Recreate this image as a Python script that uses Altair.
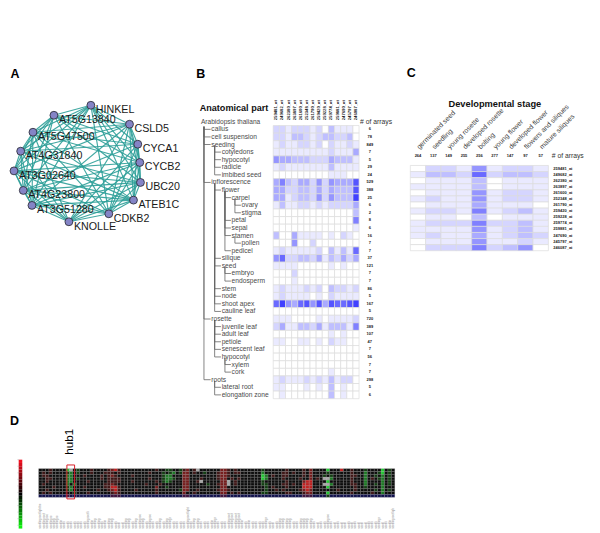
import itertools
import altair as alt
import pandas as pd

FONT = "Liberation Sans"

# ---------- Panel A : co-expression network ----------
genes = ["HINKEL", "CSLD5", "CYCA1", "CYCB2", "UBC20", "ATEB1C", "CDKB2", "KNOLLE",
         "AT3G51280", "AT4G23800", "AT3G02640", "AT4G31840", "AT5G47500", "AT5G13840"]
gene_x = [90, 128.7, 137, 139, 139.7, 132.7, 108, 68, 31, 22.3, 13, 19.7, 32, 53]
gene_y = [105, 124, 144, 162.3, 182.3, 200, 213.7, 221.7, 205.3, 190.3, 170.7, 151, 132, 115]
absent_edges = [(0, 7), (1, 9), (2, 10), (3, 11), (4, 12), (5, 13), (7, 13), (8, 2), (11, 6)]

# ---------- Panel B : anatomical parts ----------
probes = ["259481_at", "249682_at", "262380_at", "263897_at", "261600_at", "252348_at", "261790_at",
          "259420_at", "259228_at", "259774_at", "259881_at", "247690_at", "245797_at", "246087_at"]
parts = ["callus", "cell suspension", "seeding", "cotyledons", "hypocotyl", "radicle", "imbibed seed",
         "inflorescence", "flower", "carpel", "ovary", "stigma", "petal", "sepal", "stamen", "pollen",
         "pedicel", "silique", "seed", "embryo", "endosperm", "stem", "node", "shoot apex", "cauline leaf",
         "rosette", "juvenile leaf", "adult leaf", "petiole", "senescent leaf", "hypocotyl", "xylem", "cork",
         "roots", "lateral root", "elongation zone"]
depths = [1, 1, 1, 2, 2, 2, 2, 1, 2, 3, 4, 4, 3, 3, 3, 4, 3, 2, 2, 3, 3, 2, 2, 2, 2,
          1, 2, 2, 2, 2, 2, 3, 3, 1, 2, 2]
part_arrays = ["6", "78", "849", "7", "5", "29", "24", "529", "388", "25", "6", "2", "8", "6", "16", "7",
               "7", "37", "121", "7", "7", "86", "5", "167", "5", "720", "389", "107", "47", "7", "56", "7",
               "7", "298", "5", "6"]
anatomy = [
    [2, 2, 1, 2, 2, 2, 1, 2, 0, 3, 1, 1, 1, 0],
    [2, 2, 1, 3, 3, 2, 1, 2, 3, 3, 2, 2, 3, 0],
    [1, 2, 1, 1, 2, 2, 1, 2, 0, 2, 1, 1, 2, 1],
    [1, 1, 1, 1, 1, 1, 1, 1, 1, 2, 1, 1, 1, 4],
    [5, 4, 4, 3, 3, 3, 2, 2, 2, 4, 3, 3, 3, 1],
    [1, 2, 1, 1, 1, 1, 1, 1, 1, 3, 1, 1, 1, 1],
    [0, 0, 0, 0, 0, 0, 0, 0, 0, 1, 1, 1, 0, 0],
    [4, 6, 3, 2, 4, 4, 2, 5, 2, 5, 4, 4, 4, 8],
    [4, 4, 2, 2, 3, 3, 2, 4, 2, 4, 3, 3, 3, 8],
    [4, 4, 1, 2, 3, 3, 2, 5, 2, 5, 3, 3, 3, 9],
    [1, 3, 1, 1, 2, 2, 1, 2, 1, 2, 2, 2, 2, 4],
    [0, 0, 0, 0, 0, 0, 0, 0, 0, 0, 0, 0, 0, 3],
    [0, 0, 0, 0, 0, 0, 0, 0, 0, 0, 0, 0, 0, 6],
    [0, 0, 0, 0, 0, 0, 0, 0, 0, 0, 0, 0, 0, 1],
    [3, 0, 0, 4, 1, 1, 1, 1, 0, 1, 0, 2, 1, 0],
    [0, 0, 0, 5, 0, 0, 2, 0, 0, 0, 0, 0, 0, 0],
    [1, 2, 1, 1, 1, 1, 1, 2, 0, 3, 1, 3, 1, 7],
    [5, 7, 2, 2, 3, 3, 2, 4, 1, 3, 2, 4, 2, 4],
    [1, 1, 1, 1, 0, 0, 0, 0, 0, 1, 0, 1, 0, 0],
    [0, 0, 0, 2, 0, 0, 0, 0, 0, 0, 0, 0, 0, 0],
    [0, 0, 0, 1, 0, 0, 0, 0, 0, 0, 0, 0, 0, 0],
    [1, 2, 1, 1, 1, 2, 1, 2, 0, 3, 2, 2, 1, 2],
    [1, 2, 1, 1, 1, 1, 0, 1, 0, 2, 1, 1, 1, 1],
    [7, 9, 5, 4, 7, 8, 5, 8, 4, 8, 7, 7, 8, 9],
    [0, 0, 0, 0, 0, 0, 0, 0, 0, 0, 0, 0, 0, 0],
    [1, 1, 1, 0, 0, 0, 0, 1, 0, 1, 1, 1, 1, 2],
    [2, 4, 1, 1, 3, 3, 2, 4, 1, 3, 3, 3, 1, 6],
    [0, 0, 0, 0, 0, 0, 0, 0, 0, 1, 0, 1, 0, 0],
    [1, 1, 0, 0, 1, 1, 0, 1, 0, 2, 1, 1, 0, 0],
    [0, 0, 0, 0, 0, 0, 0, 0, 0, 0, 0, 0, 0, 0],
    [0, 0, 0, 0, 0, 0, 0, 0, 0, 0, 0, 0, 0, 0],
    [0, 0, 0, 0, 0, 0, 0, 0, 0, 0, 0, 0, 0, 0],
    [0, 0, 0, 0, 0, 0, 0, 0, 0, 1, 0, 0, 0, 0],
    [1, 2, 1, 1, 1, 2, 1, 2, 1, 3, 1, 2, 2, 0],
    [1, 1, 0, 0, 0, 1, 0, 1, 0, 3, 0, 1, 0, 0],
    [0, 1, 0, 0, 0, 0, 0, 0, 0, 3, 0, 1, 0, 0],
]

# ---------- Panel C : developmental stages ----------
stages = ["germinated seed", "seedling", "young rosette", "developed rosette", "bolting", "young flower",
          "developed flower", "flowers and siliques", "mature siliques"]
stage_arrays = ["264", "137", "149", "255", "256", "277", "147", "97", "57"]
development = [
    [0, 2, 2, 1, 5, 1, 2, 2, 1],
    [1, 3, 3, 2, 7, 2, 3, 3, 2],
    [0, 1, 1, 1, 3, 0, 1, 1, 1],
    [1, 1, 1, 1, 3, 0, 1, 1, 1],
    [0, 1, 1, 1, 5, 1, 2, 2, 1],
    [1, 2, 1, 1, 5, 1, 2, 2, 1],
    [0, 1, 1, 1, 4, 1, 1, 1, 0],
    [1, 2, 2, 1, 6, 1, 2, 3, 1],
    [0, 1, 1, 0, 3, 0, 1, 1, 1],
    [1, 2, 2, 2, 6, 2, 2, 3, 1],
    [1, 1, 1, 1, 5, 1, 2, 3, 1],
    [1, 2, 1, 1, 4, 1, 2, 3, 2],
    [0, 1, 1, 1, 5, 1, 1, 2, 1],
    [0, 2, 2, 2, 6, 2, 3, 5, 0],
]

# ---------- Panel D : expression matrix (letters map to shades) ----------
matrix_rows = [
    "...r....Yw .g...r.... rRXr...... ....r..gg. .grR.rw... ...RRr.r.. .....g.... ..r....r.R ....Y...X. .r...g.... Y.g.",
    ".r.r....gG .g...r...r rr.r...... ..r...g.gG .gRR.r..g. ..rRRr.rr. .....G.... .rr.r..r.R ....g..... .r...G...g Y.g.",
    ".rr.....GG ...r....r. rRr....r.. ......gGG. ..RR...... ..rRRr.... .....YG.r. .rr....r.R ...g.g.... .rr..G..g. G.g.",
    "..rr....GG .g......r. rrrr...... ..r...gGGg ..RR...r.. ..rRR.r.r. .....YG... .r....r..R .r.wwG.... .r...G.r.g G.g.",
    "..r.....GG ....r..... rrrr...r.. ....r.gGg. ..RR..rw.. ...RRw.r.. .....g.... ..r....RXX ....Y..... .r...G.... G.g.",
    ".r......G. G........r rRr....... .r...r.... ..RR.....g ..rRRw.r.. .....gg... .rr.r..XXX ...wwG.... .rr..G..g. G.g.",
    "....r...gG ...r.....r rXXr...... ....R..g.. ..RR...... ...RR..... ......g.r. ..r....XXX ....Y..... ..r..g.... G...",
    "..r.....gG .......r.. rRXr....r. ....r..... .gRR..r... ..rRRr.... ......g..r .r....rRXR .......r.. ..r.....g. G.g.",
    ".r.r...... g...r..... .rRr...... ....r..... ..R..r.... ...RR.r.r. .....gg... ..rr...rRR ....Y..... .r.....r.. G...",
    "bbbbbbbbpb bbbbbbbbbb bpppbbbbbb bbbbbbbbbb bbppbbbbbb bbbppbbbbb bbbbbbbbbb bbbbbbbppp bbbbgbbbbb bbbbbbbbbb bbbb",
]
shade_keys = [".", "r", "R", "X", "g", "G", "Y", "w", "b", "p"]
shade_vals = ["#0c0c0c", "#3f1616", "#761c1c", "#c22020", "#123f12", "#1c7a24", "#22cc33", "#a8a8a8", "#10104e", "#3c123f"]
sample_label_lengths = [
    29, 17, 15, 14, 12, 14, 9, 8, 8, 8, 8, 8, 8, 8, 20, 9, 11, 12, 8, 9,
    11, 10, 8, 7, 7, 11, 11, 8, 12, 15, 11, 8, 15, 8, 8, 12, 8, 10, 13, 8,
    8, 8, 8, 25, 8, 10, 10, 8, 8, 8, 9, 13, 8, 8, 8, 17, 17, 17, 17, 9,
    8, 9, 8, 8, 8, 8, 13, 8, 7, 8, 12, 12, 12, 12, 8, 8, 12, 10, 12, 10,
    8, 7, 8, 8, 16, 8, 7, 8, 7, 7, 8, 7, 8, 7, 7, 7, 8, 8, 8, 13, 7, 8, 9, 23,
]
sample_text = "seedling root light treatment control replicate"
colorbar_levels = [10, 9, 8, 7, 6, 5, 4, 3, 2, 1, 0, -1, -2, -3, -4, -5, -6, -7, -8, -9, -10]


def panel(width, height, xdom, ydom, layers):
    sx = alt.Scale(domain=xdom, nice=False, zero=False)
    sy = alt.Scale(domain=ydom, nice=False, zero=False)
    charts = [l(sx, sy) for l in layers]
    return alt.layer(*charts).properties(width=width, height=height)


def txt(df, x, y, text="t", **mark):
    mark.setdefault("font", FONT)
    mark.setdefault("align", "left")
    mark.setdefault("baseline", "middle")
    def build(sx, sy):
        return alt.Chart(df).mark_text(**mark).encode(
            x=alt.X(f"{x}:Q", scale=sx, axis=None),
            y=alt.Y(f"{y}:Q", scale=sy, axis=None),
            text=f"{text}:N",
        )
    return build


def rects(df, **kw):
    color = kw.pop("color")
    def build(sx, sy):
        return alt.Chart(df).mark_rect(**kw).encode(
            x=alt.X("c0:Q", scale=sx, axis=None), x2="c1:Q",
            y=alt.Y("r0:Q", scale=sy, axis=None), y2="r1:Q",
            color=color,
        )
    return build


def rules(df, **kw):
    def build(sx, sy):
        return alt.Chart(df).mark_rule(**kw).encode(
            x=alt.X("c0:Q", scale=sx, axis=None), x2="c1:Q",
            y=alt.Y("r0:Q", scale=sy, axis=None), y2="r1:Q",
        )
    return build


def letter(ch, x, y):
    return txt(pd.DataFrame({"t": [ch], "x": [x], "y": [y]}), "x", "y",
               fontSize=12.5, fontWeight="bold", color="#000")


def cells(matrix):
    return pd.DataFrame([
        {"c0": c, "c1": c + 1, "r0": r, "r1": r + 1, "v": v}
        for r, row in enumerate(matrix) for c, v in enumerate(row)
    ])


# ---- A ----
edges = [(i, j) for i, j in itertools.combinations(range(len(genes)), 2)
         if (i, j) not in absent_edges and (j, i) not in absent_edges]
edge_df = pd.DataFrame({
    "c0": [gene_x[i] for i, j in edges], "c1": [gene_x[j] for i, j in edges],
    "r0": [gene_y[i] for i, j in edges], "r1": [gene_y[j] for i, j in edges],
})
node_df = pd.DataFrame({"x": gene_x, "y": gene_y, "t": genes})


def nodes(sx, sy):
    return alt.Chart(node_df).mark_point(filled=True, size=62, color="#8484c6", stroke="#33333f",
                                         strokeWidth=0.9, opacity=1).encode(
        x=alt.X("x:Q", scale=sx, axis=None), y=alt.Y("y:Q", scale=sy, axis=None))


panel_a = panel(182, 392, [8, 190], [400, 8], [
    rules(edge_df, color="#2c9f98", strokeWidth=1.15, opacity=0.9),
    nodes,
    txt(node_df, "x", "y", dx=5, dy=5, fontSize=10.7, color="#1a1a1a"),
    letter("A", 9.5, 74),
])

# ---- B ----
CW, RH = 6.14, 7.6


def bx(px):
    return (px - 272.7) / CW


def by(py):
    return (py - 125.3) / RH


text_px = {1: 210.7, 2: 221, 3: 231, 4: 241}
stem_px = {1: 203.3, 2: 214, 3: 224.3, 4: 234.3}
tree = []
last_at = {0: -0.5}
for r, d in enumerate(depths):
    tree.append({"c0": bx(stem_px[d]), "c1": bx(text_px[d] - 0.7), "r0": r + 0.5, "r1": r + 0.5})
    tree.append({"c0": bx(stem_px[d]), "c1": bx(stem_px[d]), "r0": last_at[d - 1] + 0.65, "r1": r + 0.5})
    last_at[d] = r
tree_df = pd.DataFrame(tree)
part_df = pd.DataFrame({"t": parts, "x": [bx(text_px[d]) for d in depths],
                        "y": [r + 0.5 for r in range(len(parts))], "n": part_arrays,
                        "nx": [14 + (369.5 - 358.7) / CW] * len(parts)})
probe_df = pd.DataFrame({"t": probes, "x": [c + 0.5 for c in range(len(probes))],
                         "y": [by(120)] * len(probes)})
color_b = alt.Color("v:Q", legend=None,
                    scale=alt.Scale(domain=[0, 9], range=["#ffffff", "#0000ff"], interpolate="rgb"))

panel_b = panel(210, 392, [bx(190), bx(400)], [by(400), by(8)], [
    rects(cells(anatomy), color=color_b, stroke="#dcdcdc", strokeWidth=0.7),
    rules(tree_df, color="#666666", strokeWidth=0.8),
    txt(part_df, "x", "y", fontSize=6.7, color="#4a4a4a"),
    txt(part_df, "nx", "y", text="n", fontSize=4, fontWeight="bold", color="#222", align="center"),
    txt(probe_df, "x", "y", fontSize=4.2, fontWeight="bold", color="#222", angle=270),
    txt(pd.DataFrame({"t": ["Anatomical part"], "x": [bx(199)], "y": [by(108)]}), "x", "y",
        fontSize=9.1, fontWeight="bold", color="#111"),
    txt(pd.DataFrame({"t": ["Arabidopsis thaliana"], "x": [bx(200.3)], "y": [by(122)]}), "x", "y",
        fontSize=6.6, color="#4a4a4a"),
    txt(pd.DataFrame({"t": ["# of arrays"], "x": [bx(359.7)], "y": [by(122)]}), "x", "y",
        fontSize=6.8, color="#333"),
    letter("B", bx(195.5), by(74)),
])

# ---- C ----
CW2, RH2 = 15.37, 6.1


def cx(px):
    return (px - 410) / CW2


def cy(py):
    return (py - 165.3) / RH2


stage_df = pd.DataFrame({"t": stages, "n": stage_arrays, "x": [c + 0.5 for c in range(9)],
                         "y": [cy(148)] * 9, "ny": [cy(155.7)] * 9})
row_df = pd.DataFrame({"t": probes, "x": [cx(553.3)] * 14, "y": [r + 0.5 for r in range(14)]})
color_c = alt.Color("v:Q", legend=None,
                    scale=alt.Scale(domain=[0, 12], range=["#ffffff", "#0000ff"], interpolate="rgb"))

panel_c = panel(192, 392, [cx(400), cx(592)], [cy(400), cy(8)], [
    rects(cells(development), color=color_c, stroke="#dcdcdc", strokeWidth=0.7),
    txt(stage_df, "x", "y", fontSize=6.9, color="#444", angle=315),
    txt(stage_df, "x", "ny", text="n", fontSize=4, fontWeight="bold", color="#222", align="center"),
    txt(row_df, "x", "y", fontSize=4, fontWeight="bold", color="#222"),
    txt(pd.DataFrame({"t": ["Developmental stage"], "x": [cx(494.7)], "y": [cy(103.7)]}), "x", "y",
        fontSize=9.3, fontWeight="bold", color="#111", align="center"),
    txt(pd.DataFrame({"t": ["# of arrays"], "x": [cx(551.7)], "y": [cy(155.7)]}), "x", "y",
        fontSize=6.8, color="#333"),
    letter("C", cx(406.5), cy(73)),
])

# ---- D ----
CW3, RH3 = 3.43, 2.87


def dx_(px):
    return (px - 37.7) / CW3


def dy_(py):
    return (py - 469) / RH3


records = []
for r, row in enumerate(matrix_rows):
    for c, ch in enumerate(row.replace(" ", "")):
        records.append({"c0": c, "c1": c + 1, "r0": r, "r1": r + 1, "k": ch})
matrix_df = pd.DataFrame(records)
color_d = alt.Color("k:N", legend=None, scale=alt.Scale(domain=shade_keys, range=shade_vals))

step = (529 - 460) / RH3 / len(colorbar_levels)
bar_df = pd.DataFrame({
    "c0": [dx_(17.7)] * len(colorbar_levels), "c1": [dx_(21.3)] * len(colorbar_levels),
    "r0": [dy_(460) + i * step for i in range(len(colorbar_levels))],
    "r1": [dy_(460) + (i + 1) * step for i in range(len(colorbar_levels))],
    "v": colorbar_levels,
})
color_bar = alt.Color("v:Q", legend=None,
                      scale=alt.Scale(domain=[-10, 0, 10], range=["#10f010", "#000000", "#f01020"], interpolate="rgb"))
tick_df = bar_df.iloc[::2].assign(c0=dx_(16.6), c1=dx_(17.7), r1=lambda d: d["r0"])

sample_df = pd.DataFrame({
    "t": [sample_text[:int(n / 1.25)] for n in sample_label_lengths],
    "x": [c + 0.5 for c in range(len(sample_label_lengths))],
    "y": [dy_(529)] * len(sample_label_lengths),
})
hub_df = pd.DataFrame({"c0": [8.25], "c1": [10.5], "r0": [dy_(465.3)], "r1": [dy_(499.3)]})

panel_d = panel(584, 125, [dx_(8), dx_(592)], [dy_(525), dy_(400)], [
    rects(matrix_df, color=color_d, stroke="#9a9a9a", strokeWidth=0.2),
    rects(bar_df, color=color_bar),
    rules(tick_df, color="#888888", strokeWidth=0.5),
    txt(sample_df, "x", "y", fontSize=2.7, color="#808080", angle=270),
    lambda sx, sy: alt.Chart(hub_df).mark_rect(filled=False, stroke="#d8202a", strokeWidth=1).encode(
        x=alt.X("c0:Q", scale=sx, axis=None), x2="c1:Q",
        y=alt.Y("r0:Q", scale=sy, axis=None), y2="r1:Q"),
    txt(pd.DataFrame({"t": ["hub1"], "x": [dx_(69)], "y": [dy_(455)]}), "x", "y",
        fontSize=11.6, color="#000", angle=270),
    letter("D", dx_(9), dy_(421.7)),
]).resolve_scale(color="independent")

top = alt.hconcat(panel_a, panel_b, panel_c, spacing=0, bounds="flush")
chart = alt.vconcat(top, panel_d, spacing=0).properties(padding=0).configure_view(stroke=None)
chart.save("out.html", embed_options={"renderer": "svg", "actions": False})
